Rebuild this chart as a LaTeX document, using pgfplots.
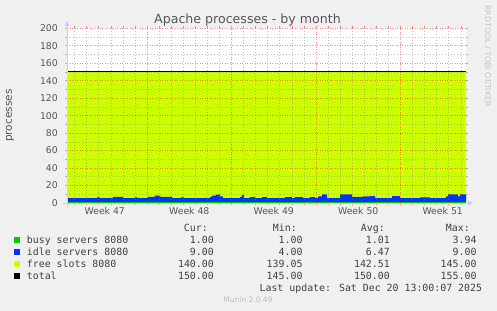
\documentclass[border=0pt]{standalone}
\usepackage{fontspec}
\setmainfont{DejaVu Sans}
\newfontfamily\monofont{DejaVu Sans Mono}
\usepackage{pgfplots}
\pgfplotsset{compat=1.18}
\usetikzlibrary{arrows.meta}
\definecolor{bg}{HTML}{F0F0F0}
\definecolor{txt}{HTML}{555555}
\definecolor{legtxt}{HTML}{404040}
\definecolor{axl}{RGB}{200,205,255}
\definecolor{busyc}{HTML}{00CC00}
\definecolor{idlec}{HTML}{0033FF}
\definecolor{freec}{HTML}{CCFF00}

\pgfplotstableread{
x      busy  top   total
-0.63  1  5.5  150
1.86   1  6.3  150
2.10   1  5.5  150
3.18   1  7.0  150
4.01   1  5.5  150
5.00   1  6.3  150
5.20   1  5.5  150
6.08   1  7.0  150
6.66   1  8.3  150
7.08   1  7.0  150
8.07   1  5.5  150
8.81   1  6.3  150
9.06   1  5.5  150
11.22  1  7.0  150
11.38  1  8.5  150
11.71  1  9.5  150
12.05  1  7.5  150
12.29  1  5.5  150
13.70  1  7.0  150
13.87  1  9.3  150
14.03  1  5.5  150
14.53  1  6.8  150
14.95  1  5.5  150
15.53  1  6.8  150
15.94  1  5.5  150
17.43  1  6.8  150
18.01  1  5.5  150
18.26  1  6.8  150
18.92  1  5.5  150
19.50  1  6.8  150
19.92  1  5.5  150
20.17  1  7.5  150
20.50  1  9.8  150
20.91  1  5.5  150
21.99  1  9.8  150
22.98  1  7.0  150
23.89  1  7.5  150
24.47  1  8.0  150
24.89  1  5.5  150
26.30  1  8.0  150
26.96  1  5.5  150
28.62  1  6.5  150
29.44  1  5.5  150
30.77  1  7.5  150
30.94  1  9.8  150
31.76  1  7.5  150
31.93  1  9.8  150
32.43  1  9.8  150
}\datatable

\begin{document}
\begin{tikzpicture}
\fill[bg] (0bp,0bp) rectangle (497bp,311bp);
\useasboundingbox (0bp,0bp) rectangle (497bp,311bp);
\begin{axis}[
  at={(67bp,108bp)}, anchor=south west,
  scale only axis, width=399bp, height=174.7bp,
  xmin=-0.63, xmax=32.43, ymin=0, ymax=200,
  axis background/.style={fill=white},
  axis line style={draw=none},
  axis on top,
  clip=true,
  tick align=outside,
  major tick length=2bp, minor tick length=2bp,
  xtick={6,13,20,27}, xticklabels={},
  minor xtick={0,1,2,3,4,5,7,8,9,10,11,12,14,15,16,17,18,19,21,22,23,24,25,26,28,29,30,31,32},
  ytick={0,20,...,200},
  minor ytick={10,30,...,190},
  grid=both,
  major grid style={draw=red, opacity=0.45, line width=0.6bp, dash pattern=on 1bp off 1.5bp},
  minor grid style={draw=gray, opacity=0.5, line width=0.6bp, dash pattern=on 1bp off 2bp},
  xtick style={draw=red!50, line width=0.6bp},
  ytick style={draw=gray!60, line width=0.6bp},
  minor tick style={draw=gray!60, line width=0.6bp},
  extra x ticks={2.5,9.5,16.5,23.5,30.5},
  extra x tick labels={Week 47,Week 48,Week 49,Week 50,Week 51},
  extra x tick style={grid=none, major tick length=0pt, xticklabel style={yshift=0bp}},
  /pgf/number format/assume math mode=true,
  ticklabel style={font=\fontsize{9.3bp}{11bp}\selectfont, text=txt},
  xticklabel style={inner sep=0pt, anchor=north, yshift=-4.5bp},
  yticklabel style={inner sep=0pt, anchor=east, xshift=-7bp},
  ylabel={processes},
  every axis y label/.style={at={(axis description cs:-0.1429,0.5)}, rotate=90, anchor=center,
     font=\fontsize{10.5bp}{12bp}\selectfont, text=txt},
]
\addplot[draw=none, fill=freec, const plot] table[x=x, y=total] {\datatable} \closedcycle;
\addplot[draw=none, fill=idlec, const plot] table[x=x, y=top] {\datatable} \closedcycle;
\addplot[draw=none, fill=busyc, const plot] table[x=x, y=busy] {\datatable} \closedcycle;
\addplot[draw=black, line width=1bp, const plot] table[x=x, y=total] {\datatable};
\end{axis}
% axis lines with arrows
\draw[axl, line width=0.8bp, -{Triangle[length=5bp,width=5bp]}] (63bp,108bp) -- (473bp,108bp);
\draw[axl, line width=0.8bp, -{Triangle[length=5bp,width=5bp]}] (67bp,104bp) -- (67bp,290bp);
% title
\node[anchor=base, text=txt, font=\fontsize{12.6bp}{15bp}\selectfont, inner sep=0pt] at (247.5bp,287.7bp) {Apache processes - by month};
% vertical credit
\node[rotate=-90, anchor=center, text=black!22, font=\fontsize{7.9bp}{9bp}\selectfont, inner sep=0pt] at (487.7bp,255bp) {RRDTOOL / TOBI OETIKER};
% legend
\begin{scope}[every node/.style={inner sep=0pt, text=legtxt, font=\monofont\fontsize{9.9bp}{11bp}\selectfont}]
\node[anchor=base east] at (208bp,79bp) {Cur:};
\node[anchor=base east] at (297bp,79bp) {Min:};
\node[anchor=base east] at (385bp,79bp) {Avg:};
\node[anchor=base east] at (470bp,79bp) {Max:};
\fill[busyc] (14bp,67.8bp) rectangle (20bp,73.8bp);
\node[anchor=base west] at (26.7bp,67.2bp) {busy servers 8080};
\node[anchor=base east] at (214bp,67.2bp) {1.00};
\node[anchor=base east] at (302.7bp,67.2bp) {1.00};
\node[anchor=base east] at (390bp,67.2bp) {1.01};
\node[anchor=base east] at (476.7bp,67.2bp) {3.94};
\fill[idlec] (14bp,56bp) rectangle (20bp,62bp);
\node[anchor=base west] at (26.7bp,55.4bp) {idle servers 8080};
\node[anchor=base east] at (214bp,55.4bp) {9.00};
\node[anchor=base east] at (302.7bp,55.4bp) {4.00};
\node[anchor=base east] at (390bp,55.4bp) {6.47};
\node[anchor=base east] at (476.7bp,55.4bp) {9.00};
\fill[freec] (14bp,44.2bp) rectangle (20bp,50.2bp);
\node[anchor=base west] at (26.7bp,43.6bp) {free slots 8080};
\node[anchor=base east] at (214bp,43.6bp) {140.00};
\node[anchor=base east] at (302.7bp,43.6bp) {139.05};
\node[anchor=base east] at (390bp,43.6bp) {142.51};
\node[anchor=base east] at (476.7bp,43.6bp) {145.00};
\fill[black] (14bp,32.4bp) rectangle (20bp,38.4bp);
\node[anchor=base west] at (26.7bp,31.8bp) {total};
\node[anchor=base east] at (214bp,31.8bp) {150.00};
\node[anchor=base east] at (302.7bp,31.8bp) {145.00};
\node[anchor=base east] at (390bp,31.8bp) {150.00};
\node[anchor=base east] at (476.7bp,31.8bp) {155.00};
\node[anchor=base east] at (482.3bp,20bp) {Last update: Sat Dec 20 13:00:07 2025};
\end{scope}
\node[anchor=base, inner sep=0pt, text=black!25, font=\fontsize{7.5bp}{9bp}\selectfont] at (248bp,8.3bp) {Munin 2.0.49};
\end{tikzpicture}
\end{document}
